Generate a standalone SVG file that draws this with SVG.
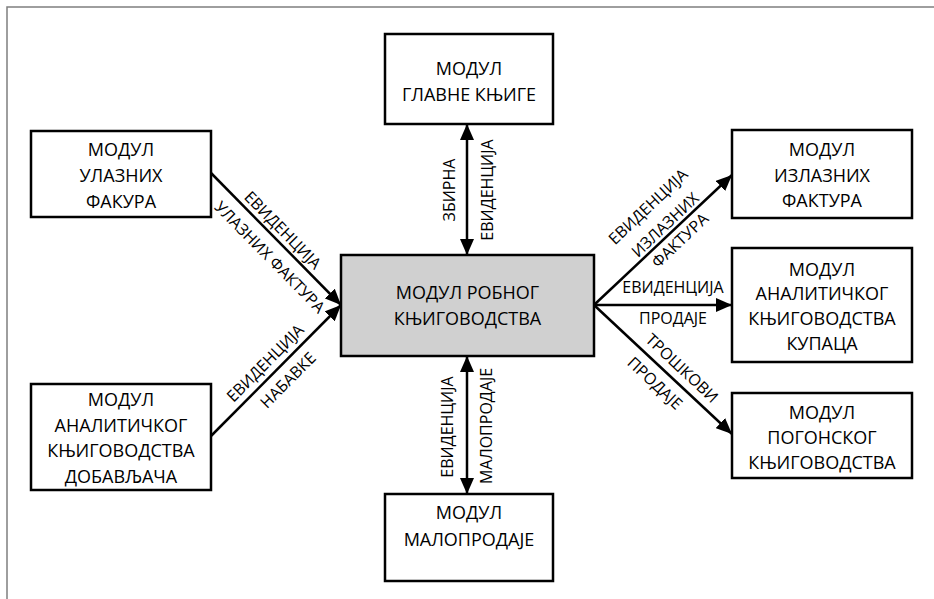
<svg xmlns="http://www.w3.org/2000/svg" width="934" height="599" viewBox="0 0 934 599">
<style>
.box{fill:#fff;stroke:#000;stroke-width:2.5}
.center{fill:#d0d0d0;stroke:#000;stroke-width:2.5}
.t{font-family:"Open Sans","Noto Sans","DejaVu Sans",sans-serif;font-size:18px;fill:#000;text-anchor:middle}
.l{font-family:"Open Sans","Noto Sans","DejaVu Sans",sans-serif;font-size:16px;fill:#000;text-anchor:middle}
.c{stroke:#000;stroke-width:2.5;fill:none}
.frame{stroke:#7f7f7f;stroke-width:1.5;fill:none}
</style>
<defs>
<marker id="ah" viewBox="0 0 16 14" refX="16" refY="7" markerWidth="16" markerHeight="14" markerUnits="userSpaceOnUse" orient="auto-start-reverse">
<path d="M0,0 L16,7 L0,14 z" fill="#000"/>
</marker>
</defs>
<rect width="934" height="599" fill="#fff"/>
<path class="frame" d="M7,599 L7,7 L934,7"/>
<g id="connectors">
<line class="c" x1="467" y1="124" x2="467" y2="255" marker-start="url(#ah)" marker-end="url(#ah)"/>
<line class="c" x1="467" y1="356" x2="467" y2="494" marker-start="url(#ah)" marker-end="url(#ah)"/>
<line class="c" x1="211" y1="173" x2="341" y2="305" marker-end="url(#ah)"/>
<line class="c" x1="211" y1="436" x2="341" y2="305" marker-end="url(#ah)"/>
<line class="c" x1="594" y1="305" x2="732" y2="175" marker-end="url(#ah)"/>
<line class="c" x1="594" y1="305" x2="732" y2="305" marker-end="url(#ah)"/>
<line class="c" x1="594" y1="305" x2="732" y2="434" marker-end="url(#ah)"/>
<g transform="translate(276,239) rotate(45.4)">
<text class="l" x="-1.5" y="-5.5">ЕВИДЕНЦИЈА</text>
<text class="l" x="8.6" y="22.7">УЛАЗНИХ ФАКТУРА</text>
</g>
<g transform="translate(276,370.5) rotate(-45.2)">
<text class="l" x="-2.4" y="-7.3">ЕВИДЕНЦИЈА</text>
<text class="l" x="1.7" y="20.9">НАБАВКЕ</text>
</g>
<g transform="translate(663,240) rotate(-43.3)">
<text class="l" x="12" y="-29">ЕВИДЕНЦИЈА</text>
<text class="l" x="12" y="-4">ИЗЛАЗНИХ</text>
<text class="l" x="12" y="17.5">ФАКТУРА</text>
</g>
<text class="l" x="673" y="293">ЕВИДЕНЦИЈА</text>
<text class="l" x="673" y="324">ПРОДАЈЕ</text>
<g transform="translate(663,369.5) rotate(43.1)">
<text class="l" x="12.9" y="-8.3">ТРОШКОВИ</text>
<text class="l" x="3.4" y="21.1">ПРОДАЈЕ</text>
</g>
<text class="l" transform="translate(455,190) rotate(-90)">ЗБИРНА</text>
<text class="l" transform="translate(493,190) rotate(-90)">ЕВИДЕНЦИЈА</text>
<text class="l" transform="translate(453,427) rotate(-90)">ЕВИДЕНЦИЈА</text>
<text class="l" transform="translate(492,426) rotate(-90)">МАЛОПРОДАЈЕ</text>
</g>
<g id="glavna">
<rect class="box" x="385" y="34" width="168" height="90"/>
<text class="t" x="469" y="75">МОДУЛ</text>
<text class="t" x="469" y="101">ГЛАВНЕ КЊИГЕ</text>
</g>
<g id="ulazne">
<rect class="box" x="31" y="131" width="180" height="86"/>
<text class="t" x="121" y="156">МОДУЛ</text>
<text class="t" x="121" y="182">УЛАЗНИХ</text>
<text class="t" x="121" y="208">ФАКУРА</text>
</g>
<g id="dobavljaci">
<rect class="box" x="31" y="384" width="180" height="106"/>
<text class="t" x="121" y="406">МОДУЛ</text>
<text class="t" x="121" y="432">АНАЛИТИЧКОГ</text>
<text class="t" x="121" y="457">КЊИГОВОДСТВА</text>
<text class="t" x="121" y="483">ДОБАВЉАЧА</text>
</g>
<g id="robno">
<rect class="center" x="341" y="255" width="253" height="101"/>
<text class="t" x="467.5" y="299">МОДУЛ РОБНОГ</text>
<text class="t" x="467.5" y="325">КЊИГОВОДСТВА</text>
</g>
<g id="izlazne">
<rect class="box" x="732" y="130" width="180" height="88"/>
<text class="t" x="822" y="156">МОДУЛ</text>
<text class="t" x="822" y="182">ИЗЛАЗНИХ</text>
<text class="t" x="822" y="207">ФАКТУРА</text>
</g>
<g id="kupci">
<rect class="box" x="732" y="248" width="180" height="114"/>
<text class="t" x="822" y="276">МОДУЛ</text>
<text class="t" x="822" y="300">АНАЛИТИЧКОГ</text>
<text class="t" x="822" y="325">КЊИГОВОДСТВА</text>
<text class="t" x="822" y="350">КУПАЦА</text>
</g>
<g id="pogonsko">
<rect class="box" x="732" y="393" width="180" height="85"/>
<text class="t" x="822" y="419">МОДУЛ</text>
<text class="t" x="822" y="444">ПОГОНСКОГ</text>
<text class="t" x="822" y="469">КЊИГОВОДСТВА</text>
</g>
<g id="maloprodaja">
<rect class="box" x="385" y="494" width="168" height="87"/>
<text class="t" x="469" y="519">МОДУЛ</text>
<text class="t" x="469" y="546">МАЛОПРОДАЈЕ</text>
</g>
</svg>
